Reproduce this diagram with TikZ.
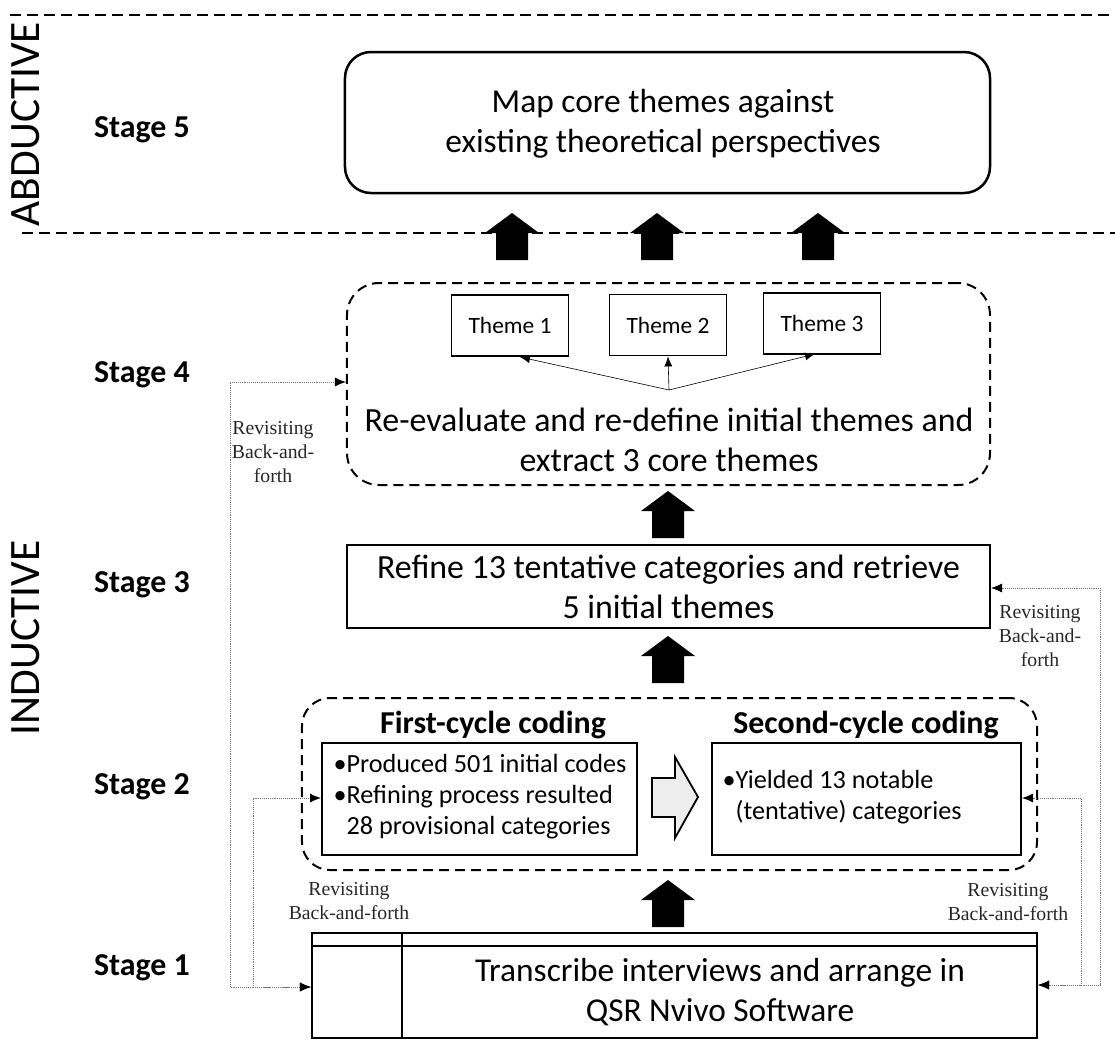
\documentclass[tikz,border=0pt]{standalone}
\usepackage{fontspec}
\setmainfont{Carlito}
\newfontfamily\notefont{Liberation Serif}
\usetikzlibrary{arrows.meta}

% upward block arrow: tip at (#1,#2), drawn downwards in screen space
\newcommand\upblock[2]{%
  \fill (#1-27,#2+20) -- (#1,#2) -- (#1+27,#2+20) -- (#1+16,#2+20)
        -- (#1+16,#2+47) -- (#1-16,#2+47) -- (#1-16,#2+20) -- cycle;}

\begin{document}
\begin{tikzpicture}[x=1bp,y=-1bp,
  body/.style={font=\fontsize{34}{40}\selectfont, align=center},
  stagelbl/.style={font=\fontsize{32}{36}\selectfont\bfseries},
  side/.style={font=\fontsize{43.5}{46}\selectfont, rotate=90},
  solidbox/.style={draw, line width=2bp, inner sep=0pt},
  dashbox/.style={draw, line width=2bp, dash pattern=on 10bp off 6bp, rounded corners=28bp, inner sep=0pt},
  themebox/.style={draw, line width=1.8bp, minimum width=117bp, minimum height=61bp, inner sep=0pt, font=\fontsize{23.5}{27}\selectfont},
  bullets/.style={font=\fontsize{26.3}{31}\selectfont, align=left},
  cyclehead/.style={font=\fontsize{32}{36}\selectfont\bfseries},
  note/.style={font=\notefont\fontsize{19.8}{24}\selectfont, align=center, text=black!85},
  fb/.style={draw=black!55, line width=0.9bp, densely dotted, {Latex[color=black,length=11bp,width=9bp]}-{Latex[color=black,length=11bp,width=9bp]}},
  sep/.style={line width=1.8bp, dash pattern=on 11bp off 6bp},
]
\useasboundingbox (0,0) rectangle (1115,1059);

% phase separators
\draw[sep] (10,15) -- (1115,15);
\draw[sep] (22,233) -- (1115,233);
\node[side] (abd) at (26,124) {ABDUCTIVE};
\node[side] (ind) at (26,638) {INDUCTIVE};

% stage labels
\node[stagelbl] (l5) at (142,130) {Stage 5};
\node[stagelbl] (l4) at (142,375) {Stage 4};
\node[stagelbl] (l3) at (142,585) {Stage 3};
\node[stagelbl] (l2) at (142,787) {Stage 2};
\node[stagelbl] (l1) at (142,968) {Stage 1};

% stage 5
\node[draw, line width=2.5bp, rounded corners=26bp, minimum width=645bp, minimum height=141bp, inner sep=0pt]
  (s5) at (667.5,122.5) {};
\node[body, font=\fontsize{33.6}{40}\selectfont] (s5txt) at (663,124)
  {Map core themes against\\existing theoretical perspectives};
\upblock{512}{213}
\upblock{657}{213}
\upblock{818}{213}

% stage 4
\node[dashbox, rounded corners=32bp, minimum width=643bp, minimum height=202bp] (s4) at (668.5,384) {};
\node[themebox] (t1) at (510,325.5) {Theme 1};
\node[themebox] (t2) at (668,325) {Theme 2};
\node[themebox] (t3) at (822,323.5) {Theme 3};
\coordinate (fork) at (669,390);
\draw[line width=0.6bp, -{Latex[length=10bp,width=8bp]}] (fork) -- (520,357);
\draw[line width=0.6bp, -{Latex[length=10bp,width=8bp]}] (fork) -- (t2.south);
\draw[line width=0.6bp, -{Latex[length=10bp,width=8bp]}] (fork) -- (815,354);
\node[body] (s4txt) at (669,440) {Re-evaluate and re-define initial themes and\\extract 3 core themes};
\upblock{668}{491}

% stage 3
\node[solidbox, minimum width=643bp, minimum height=83bp, body] (s3) at (668.5,586.5)
  {Refine 13 tentative categories and retrieve\\5 initial themes};
\upblock{668}{636}

% stage 2
\node[dashbox, minimum width=735bp, minimum height=172bp] (s2) at (669.5,784) {};
\node[cyclehead] (c1) at (493,725) {First-cycle coding};
\node[cyclehead] (c2) at (866,725) {Second-cycle coding};
\node[solidbox, minimum width=315bp, minimum height=112bp] (b1) at (479.5,799) {};
\node[bullets, anchor=west] (b1txt) at (330,797)
  {\textbullet Produced 501 initial codes\\\textbullet Refining process resulted\\\phantom{\textbullet}28 provisional categories};
\node[solidbox, minimum width=309bp, minimum height=112bp] (b2) at (866.5,799) {};
\node[bullets, anchor=west] (b2txt) at (719,797)
  {\textbullet Yielded 13 notable\\\phantom{\textbullet}(tentative) categories};
\draw[line width=1.8bp, fill=black!7] (652,778) -- (675,778) -- (675,757) -- (698,797)
  -- (675,838) -- (675,817) -- (652,817) -- cycle;
\upblock{668}{880}

% stage 1
\node[solidbox, minimum width=725bp, minimum height=105bp] (s1) at (674.5,985.5) {};
\draw[line width=1.8bp] (312,946) -- (1037,946);
\draw[line width=1.8bp] (402,933) -- (402,1038);
\node[body, font=\fontsize{33.5}{40}\selectfont] (s1txt) at (720,992) {Transcribe interviews and arrange in\\QSR Nvivo Software};

% revisiting loops
\draw[fb] (s4.west |- 0,382) -- (230,382) -- (230,987) -- (s1.west |- 0,987);
\draw[fb] (b1.west |- 0,798) -- (253,798) -- (253,987) -- (s1.west |- 0,987);
\draw[fb] (b2.east |- 0,798) -- (1081,798) -- (1081,985) -- (s1.east |- 0,985);
\draw[fb] (s3.east |- 0,588) -- (1100,588) -- (1100,985) -- (s1.east |- 0,985);

\node[note] (n4) at (273,452) {Revisiting\\Back-and-\\forth};
\node[note] (n3) at (1040,636) {Revisiting\\Back-and-\\forth};
\node[note] (n2l) at (349,901) {Revisiting\\Back-and-forth};
\node[note] (n2r) at (1008,902) {Revisiting\\Back-and-forth};
\end{tikzpicture}
\end{document}
